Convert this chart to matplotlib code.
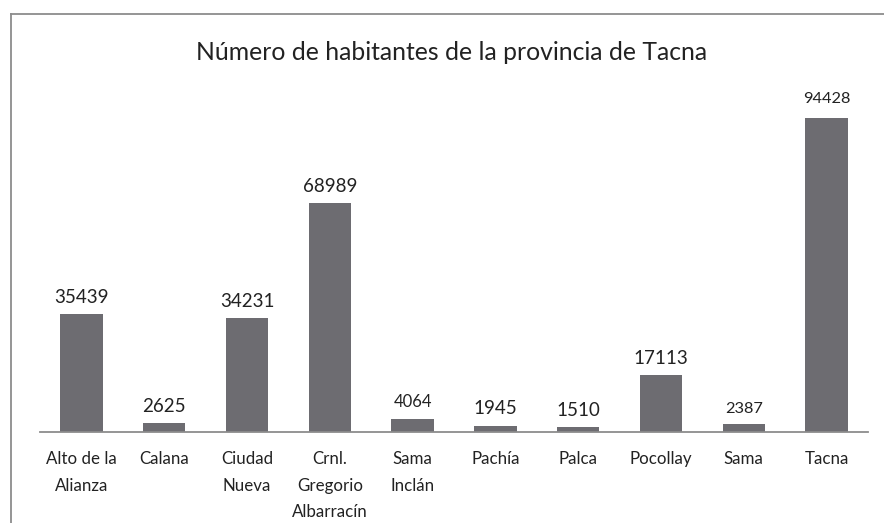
import matplotlib
matplotlib.use("Agg")
import matplotlib.pyplot as plt
from matplotlib.lines import Line2D

categories = ["Alto de la\nAlianza", "Calana", "Ciudad\nNueva", "Crnl.\nGregorio\nAlbarracín",
              "Sama\nInclán", "Pachía", "Palca", "Pocollay", "Sama", "Tacna"]
values = [35439, 2625, 34231, 68989, 4064, 1945, 1510, 17113, 2387, 94428]
label_sizes = [13.5, 13.5, 13.5, 13.5, 12, 13.5, 13.5, 13.5, 11.8, 11.8]
title = "Número de habitantes de la provincia de Tacna"

plt.rcParams['font.family'] = ['Lato', 'DejaVu Sans']

W, H = 884, 523
fig = plt.figure(figsize=(W / 100, H / 100), dpi=100)
ax = fig.add_axes([40 / W, 1 - 432 / H, 828 / W, 332 / H])

bar_color = "#6d6c71"
x = list(range(len(values)))
ax.bar(x, values, width=0.51, color=bar_color)
ax.set_xlim(-0.5, len(values) - 0.5)
ax.set_ylim(0, 100000)

for xi, v, s in zip(x, values, label_sizes):
    off = 9 if v == max(values) else 6
    ax.annotate(str(v), (xi, v), xytext=(0, off), textcoords="offset points",
                ha="center", va="bottom", fontsize=s, color="#222222")

ax.set_xticks(x)
ax.set_xticklabels(categories, fontsize=12.2, color="#222222", linespacing=1.78)
ax.tick_params(axis="x", length=0, pad=14)
ax.set_yticks([])
for sp in ["top", "right", "left"]:
    ax.spines[sp].set_visible(False)
ax.spines["bottom"].set_color("#8c8c8c")
ax.spines["bottom"].set_linewidth(1.3)

fig.text(452 / W, 1 - 53 / H, title, ha="center", va="center", fontsize=17.8, color="#222222")

# outer chart border (partially visible)
bx = 10.5 / W
by = 1 - 13.5 / H
fig.add_artist(Line2D([bx, bx], [0, by], transform=fig.transFigure, color="#8c8c8c", lw=1.3))
fig.add_artist(Line2D([bx, 1], [by, by], transform=fig.transFigure, color="#8c8c8c", lw=1.3))

fig.savefig("out.png", dpi=100)
